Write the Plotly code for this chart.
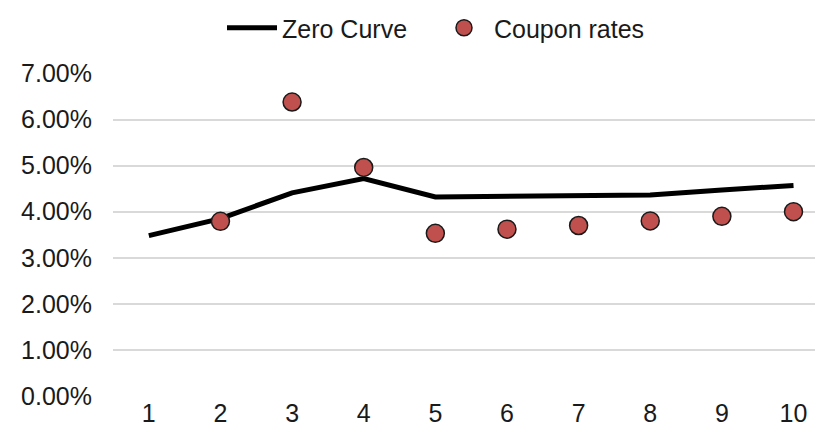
import plotly.graph_objects as go

maturity = [1, 2, 3, 4, 5, 6, 7, 8, 9, 10]
zero_curve = [3.48, 3.85, 4.41, 4.72, 4.32, 4.33, 4.34, 4.36, 4.47, 4.57]
coupon_x = [2, 3, 4, 5, 6, 7, 8, 9, 10]
coupon_rates = [3.79, 6.38, 4.96, 3.53, 3.62, 3.70, 3.80, 3.90, 4.00]
y_ticks = [0, 1, 2, 3, 4, 5, 6, 7]
y_tick_labels = ["0.00%", "1.00%", "2.00%", "3.00%", "4.00%", "5.00%", "6.00%", "7.00%"]

fig = go.Figure()
fig.add_trace(go.Scatter(
    x=maturity, y=zero_curve, mode="lines", name="Zero Curve",
    line=dict(color="black", width=5),
))
fig.add_trace(go.Scatter(
    x=coupon_x, y=coupon_rates, mode="markers", name="Coupon rates",
    marker=dict(color="#C0504D", size=18, line=dict(color="#1a1a1a", width=1.5)),
))

fig.update_layout(
    width=817, height=434,
    margin=dict(l=113, r=2, t=73, b=38, autoexpand=False),
    paper_bgcolor="white", plot_bgcolor="white",
    font=dict(family="Liberation Sans, Arial, sans-serif", size=25, color="#1a1a1a"),
    showlegend=True,
    legend=dict(orientation="h", xref="container", x=222 / 817, xanchor="left",
                yref="container", y=1 - 28 / 434, yanchor="middle",
                font=dict(size=25), itemwidth=50, entrywidth=147, traceorder="normal",
                bgcolor="rgba(0,0,0,0)"),
    xaxis=dict(range=[0.5, 10.3], tickmode="array", tickvals=maturity,
               ticktext=[str(m) for m in maturity], showgrid=False, zeroline=False,
               showline=False, ticks="", ticklabelstandoff=0, automargin=False),
    yaxis=dict(range=[0, 7.01], tickmode="array", tickvals=y_ticks, ticktext=y_tick_labels,
               showgrid=True, gridcolor="#d9d9d9", gridwidth=1.5, zeroline=False,
               showline=False, ticks="", ticklabelstandoff=20, automargin=False),
)
fig.write_html("out.html", config={"displayModeBar": False},
               post_script="document.body.style.margin='0';document.body.style.overflow='hidden';")
